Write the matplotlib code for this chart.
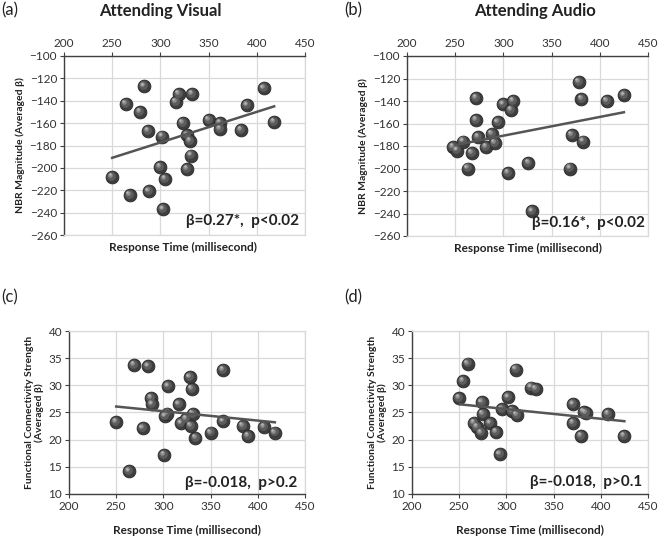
import matplotlib
matplotlib.use("Agg")
import matplotlib.pyplot as plt
from matplotlib.transforms import offset_copy

plt.rcParams['font.family'] = ['Lato', 'DejaVu Sans']

# ---- data ----
a_x = [250, 264, 268, 279, 283, 287, 288, 302, 300, 305, 303, 316, 319, 323, 328, 328, 331, 332, 333, 350, 362, 362, 384, 390, 407, 418]
a_y = [-208, -143, -224, -150, -127, -167, -221, -172, -199, -210, -237, -141, -134, -160, -171, -201, -176, -189, -134, -157, -160, -165, -166, -144, -129, -159]
a_fit_x = [250, 418]
a_fit_y = [-191, -145]

b_x = [248, 252, 258, 263, 267, 272, 272, 274, 282, 288, 291, 294, 300, 305, 308, 310, 326, 330, 369, 371, 378, 381, 383, 407, 425]
b_y = [-181, -184, -176, -200, -186, -137, -157, -172, -181, -169, -177, -159, -143, -204, -148, -140, -195, -238, -200, -170, -123, -138, -176, -140, -135]
b_fit_x = [251, 425]
b_fit_y = [-179, -150]

c_x = [250, 264, 269, 278, 284, 287, 288, 301, 302, 304, 305, 316, 319, 324, 328, 329, 330, 331, 334, 350, 363, 363, 384, 390, 407, 418]
c_y = [23.3, 14.2, 33.8, 22.1, 33.5, 27.7, 26.5, 17.2, 24.3, 24.8, 29.8, 26.5, 23.0, 23.8, 31.5, 22.5, 29.3, 24.7, 20.3, 21.3, 23.4, 32.8, 22.5, 20.7, 22.4, 21.3]
c_fit_x = [250, 418]
c_fit_y = [26.1, 23.2]

d_x = [250, 254, 259, 266, 269, 273, 274, 275, 283, 289, 293, 295, 302, 306, 310, 311, 326, 331, 371, 371, 379, 382, 384, 408, 425]
d_y = [27.7, 30.8, 34.0, 23.1, 22.4, 21.3, 26.9, 24.7, 23.0, 21.4, 17.3, 25.6, 27.8, 25.3, 32.9, 24.6, 29.6, 29.3, 23.1, 26.5, 20.7, 25.1, 24.9, 24.7, 20.7]
d_fit_x = [251, 425]
d_fit_y = [26.5, 23.4]

x_ticks = [200, 250, 300, 350, 400, 450]
nbr_ticks = [-100, -120, -140, -160, -180, -200, -220, -240, -260]
fc_ticks = [10, 15, 20, 25, 30, 35, 40]

titles = ["Attending Visual", "Attending Audio"]
panel_labels = ["(a)", "(b)", "(c)", "(d)"]
notes = ["β=0.27*,  p<0.02", "β=0.16*,  p<0.02", "β=-0.018,  p>0.2", "β=-0.018,  p>0.1"]
xlabel = "Response Time (millisecond)"
ylab_nbr = "NBR Magnitude (Averaged β)"
ylab_fc = "Functional Connectivity Strength\n(Averaged β)"

W, H = 659, 538
fig = plt.figure(figsize=(W / 100, H / 100), dpi=100)


def rect(l, r, t, b):
    return [l / W, 1 - b / H, (r - l) / W, (b - t) / H]


axes_rects = [rect(64, 305, 56, 235), rect(407, 648, 56, 236),
              rect(69, 305, 331, 494), rect(412, 648, 331, 494)]
datasets = [(a_x, a_y, a_fit_x, a_fit_y), (b_x, b_y, b_fit_x, b_fit_y),
            (c_x, c_y, c_fit_x, c_fit_y), (d_x, d_y, d_fit_x, d_fit_y)]
note_pos = [(0.975, 0.08), (0.987, 0.075), (0.966, 0.07), (0.975, 0.075)]

axes = []
for i, (r, (x, y, fx, fy)) in enumerate(zip(axes_rects, datasets)):
    ax = fig.add_axes(r)
    axes.append(ax)
    top = i < 2
    ax.set_xlim(200, 450)
    ax.set_xticks(x_ticks)
    if top:
        ax.set_ylim(-260, -100)
        ax.set_yticks(nbr_ticks)
        ax.xaxis.tick_top()
    else:
        ax.set_ylim(10, 40)
        ax.set_yticks(fc_ticks)
    ax.grid(True, color='#d9d9d9', linewidth=0.9)
    ax.set_axisbelow(True)
    for s in ['left', 'right', 'top', 'bottom']:
        ax.spines[s].set_color('#d9d9d9')
        ax.spines[s].set_linewidth(0.9)
    ax.spines['left'].set_color('#404040')
    ax.spines['left'].set_linewidth(1.0)
    if top:
        ax.spines['top'].set_color('#404040')
        ax.spines['top'].set_linewidth(1.0)
    else:
        ax.spines['bottom'].set_color('#404040')
        ax.spines['bottom'].set_linewidth(1.0)
    ax.tick_params(axis='both', labelsize=8.5, colors='#404040', length=3, width=0.8,
                   direction='out', labelcolor='#333333', pad=2)

    # spheres
    ax.scatter(x, y, s=85, color='#3e3e3e', edgecolors='#2a2a2a', linewidths=0.6, zorder=3)
    t1 = offset_copy(ax.transData, fig=fig, x=-0.7, y=0.8, units='points')
    ax.scatter(x, y, s=40, color='#5c5c5c', linewidths=0, zorder=4, transform=t1)
    t2 = offset_copy(ax.transData, fig=fig, x=-1.4, y=1.5, units='points')
    ax.scatter(x, y, s=11, color='#8c8c8c', linewidths=0, zorder=5, transform=t2)
    t3 = offset_copy(ax.transData, fig=fig, x=-1.7, y=1.9, units='points')
    ax.scatter(x, y, s=3, color='#b8b8b8', linewidths=0, zorder=6, transform=t3)

    ax.plot(fx, fy, color='#555555', linewidth=1.8, zorder=7)

    nx, ny = note_pos[i]
    ax.text(nx, ny, notes[i], transform=ax.transAxes, ha='right', va='center',
            fontsize=11, fontweight='bold', color='#222222', zorder=8)

    ax.set_ylabel(ylab_nbr if top else ylab_fc, fontsize=7.5, fontweight='bold',
                  color='#222222', labelpad=3, linespacing=1.1)

# x labels
fig.text(183 / W, 1 - 247 / H, xlabel, ha='center', va='center', fontsize=8.5, fontweight='bold', color='#222222')
fig.text(528 / W, 1 - 248 / H, xlabel, ha='center', va='center', fontsize=8.5, fontweight='bold', color='#222222')
fig.text(187 / W, 1 - 530 / H, xlabel, ha='center', va='center', fontsize=8.5, fontweight='bold', color='#222222')
fig.text(530 / W, 1 - 530 / H, xlabel, ha='center', va='center', fontsize=8.5, fontweight='bold', color='#222222')

# titles
fig.text(160 / W, 1 - 11 / H, titles[0], ha='center', va='center', fontsize=12, fontweight='bold', color='#222222')
fig.text(535 / W, 1 - 11 / H, titles[1], ha='center', va='center', fontsize=12, fontweight='bold', color='#222222')

# panel labels
fig.text(1 / W, 1 - 10 / H, panel_labels[0], ha='left', va='center', fontsize=12, color='#222222')
fig.text(344 / W, 1 - 10 / H, panel_labels[1], ha='left', va='center', fontsize=12, color='#222222')
fig.text(1 / W, 1 - 297 / H, panel_labels[2], ha='left', va='center', fontsize=12, color='#222222')
fig.text(344 / W, 1 - 297 / H, panel_labels[3], ha='left', va='center', fontsize=12, color='#222222')

fig.savefig("out.png", dpi=100)
